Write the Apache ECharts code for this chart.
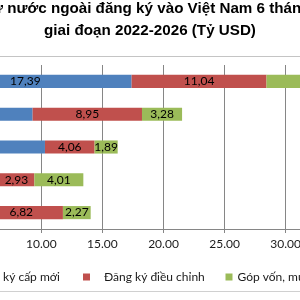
<!DOCTYPE html>
<html>
<head>
<meta charset="utf-8">
<script src="https://cdn.jsdelivr.net/npm/echarts@6.0.0/dist/echarts.min.js"></script>
<style>
	html, body { margin:0; padding:0; background:#fff; }
	#chart { width:300px; height:300px; }
</style>
</head>
<body>
<div id="chart"></div>
<script>
// năm (dưới lên trên)
var years = ['2022', '2023', '2024', '2025', '2026'];
// tỷ USD
var capMoi = [4.95, 6.50, 10.30, 9.29, 17.39];
var dieuChinh = [6.82, 2.93, 4.06, 8.95, 11.04];
var gopVon = [2.27, 4.01, 1.89, 3.28, 8.50];
var xTicks = { min:0, max:40, interval:5 };

var seriesNames = ['Đăng ký cấp mới', 'Đăng ký điều chỉnh', 'Góp vốn, mua cổ phần'];
var colors = ['#4f81bd', '#c0504d', '#9bbb59'];

var chart = echarts.init( document.getElementById( 'chart' ), null, {renderer:'canvas'} );

var labelFont = 'Lato';

var makeSeries = function(idx, data){
	return {
		name:seriesNames[idx],
		type:'bar',
		stack:'total',
		barWidth:'40%',
		data:data,
		itemStyle:{ color:colors[idx] },
		label:{
			show:true,
			position:'inside',
			color:'#000',
			fontFamily:labelFont,
			fontSize:12,
			formatter:function(p){
				return p.value.toFixed( 2 ).replace( '.', ',' );
			}
		}
	};
};

var legendItem = function(name, pos, textPad){
	var lg = {
		data:[name],
		top:271,
		padding:0,
		icon:'rect',
		itemWidth:7,
		itemHeight:7,
		selectedMode:false,
		textStyle:{ color:'#1a1a1a', fontFamily:labelFont, fontSize:12, padding:textPad }
	};
	for( var k in pos ){
		lg[k] = pos[k];
	}
	return lg;
};

chart.setOption( {
	animation:false,
	title:{
		text:'Vốn đầu tư nước ngoài đăng ký vào Việt Nam 6 tháng đầu năm\ngiai đoạn 2022-2026 (Tỷ USD)',
		left:'center',
		top:-2,
		padding:0,
		textStyle:{
			fontFamily:'Liberation Sans',
			fontWeight:'bold',
			fontSize:15.2,
			lineHeight:22,
			color:'#000'
		}
	},
	legend:[
		legendItem( seriesNames[0], {right:240}, [0, 0, 0, 9] ),
		legendItem( seriesNames[1], {left:83}, [0, 0, 0, 9] ),
		legendItem( seriesNames[2], {left:225.5}, [0, 0, 0, 0] )
	],
	grid:{
		left:-80.9,
		right:-107.9,
		top:65,
		bottom:71,
		outerBoundsMode:'none'
	},
	xAxis:{
		type:'value',
		min:xTicks.min,
		max:xTicks.max,
		interval:xTicks.interval,
		axisLine:{ show:true, lineStyle:{ color:'#868686' } },
		axisTick:{ show:true, length:4, lineStyle:{ color:'#868686' } },
		splitLine:{ show:true, lineStyle:{ color:'#868686' } },
		axisLabel:{
			color:'#1a1a1a',
			fontFamily:labelFont,
			fontSize:12,
			margin:9,
			formatter:function(v){ return v.toFixed( 2 ); }
		}
	},
	yAxis:{
		type:'category',
		data:years,
		axisLine:{ show:true, lineStyle:{ color:'#868686' } },
		axisTick:{ show:false },
		axisLabel:{ show:false }
	},
	graphic:[
		{ type:'line', silent:true, shape:{ x1:0, y1:56.5, x2:300, y2:56.5 }, style:{ stroke:'#c4c4c4', lineWidth:1 } },
		{ type:'line', silent:true, shape:{ x1:0, y1:291.5, x2:300, y2:291.5 }, style:{ stroke:'#d0d0d0', lineWidth:1 } }
	],
	series:[
		makeSeries( 0, capMoi ),
		makeSeries( 1, dieuChinh ),
		makeSeries( 2, gopVon )
	]
} );
</script>
</body>
</html>
